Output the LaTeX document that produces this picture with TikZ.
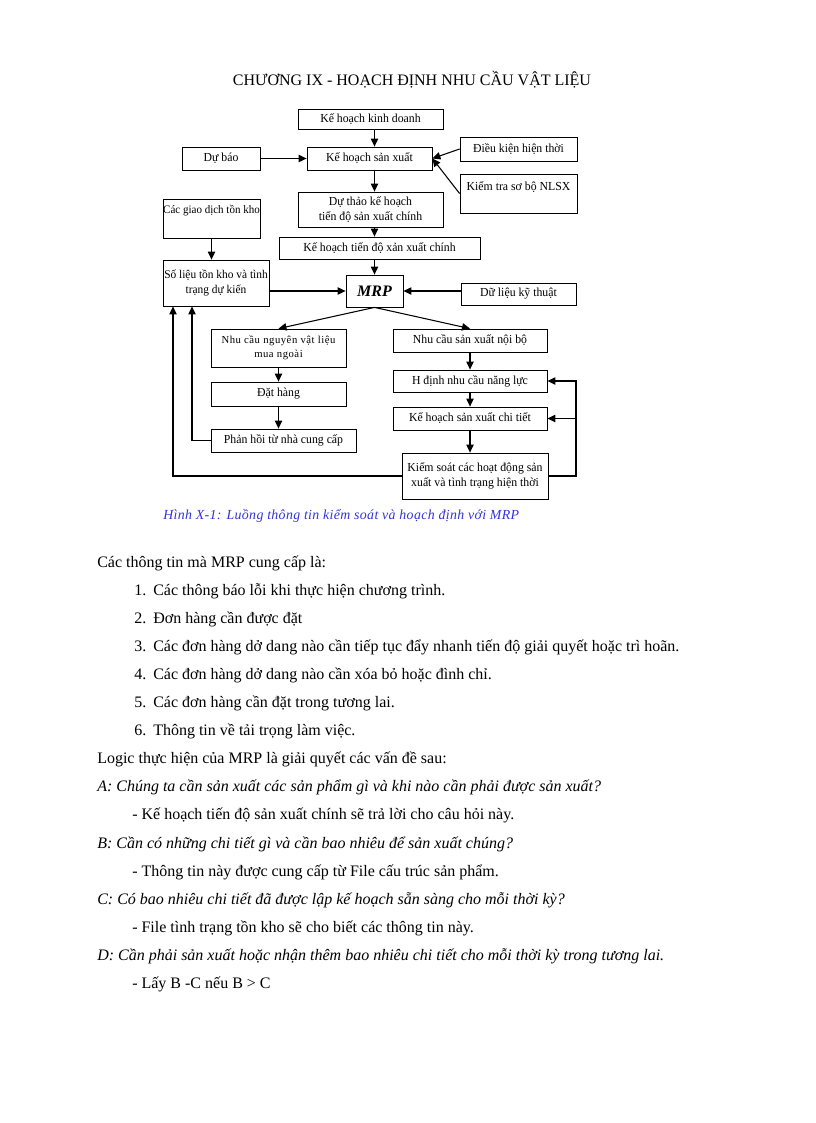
\documentclass[tikz,border=0pt]{standalone}
\usepackage{fontspec}
\setmainfont{Liberation Serif}
\newfontfamily\boxfont[FakeStretch=0.96]{Liberation Serif}
\newfontfamily\widefont[LetterSpace=5]{Liberation Serif}
\newfontfamily\capfont[LetterSpace=2.5]{Liberation Serif}
\usetikzlibrary{arrows.meta,positioning}
\definecolor{capblue}{RGB}{51,51,221}

\begin{document}
\begin{tikzpicture}[
	x=0.75pt, y=-0.75pt,
	>={Triangle[length=6pt,width=5.5pt]},
	boxsize/.style 2 args={minimum width=#1*0.75pt, minimum height=#2*0.75pt},
	flowbox/.style={draw, rectangle, line width=0.6pt, inner sep=1pt, align=center, font=\boxfont\fontsize{9.2}{11.5}\selectfont},
	flowline/.style={line width=0.8pt},
	bodytext/.style={anchor=base west, inner sep=0pt, font=\fontsize{12}{21}\selectfont},
	]
	\fill[white] (0,0) rectangle (816,1123);
	\useasboundingbox (0,0) rectangle (816,1123);

	%Title
	\node[anchor=base, inner sep=0pt, font=\fontsize{12}{14}\selectfont] (title) at (412,86) {CHƯƠNG IX - HOẠCH ĐỊNH NHU CẦU VẬT LIỆU};

	%Nodes
	\node[flowbox, boxsize={145}{20}] (kd)      at (370.5,119)   {Kế hoạch kinh doanh};
	\node[flowbox, boxsize={125}{23}] (kh)      at (369.5,158.5) {Kế hoạch sản xuất};
	\node[flowbox, boxsize={78}{23}]  (db)      at (221,158.5)   {Dự báo};
	\node[flowbox, boxsize={117}{24}] (dk)      at (518.5,149)   {Điều kiện hiện thời};
	\node[flowbox, boxsize={117}{39}] (kt)      at (518.5,193.5) {Kiểm tra sơ bộ NLSX\\~};
	\node[flowbox, boxsize={145}{35}] (dt)      at (370.5,209.5) {Dự thảo kế hoạch\\tiến độ sản xuất chính};
	\node[flowbox, boxsize={97}{39}, inner xsep=0pt, font=\boxfont\fontsize{8.6}{11.5}\selectfont] (gd) at (211.5,218.5) {Các giao dịch tồn kho\\[2pt]~};
	\node[flowbox, boxsize={201}{22}] (tdc)     at (379.5,248)   {Kế hoạch tiến độ xản xuất chính};
	\node[flowbox, boxsize={106}{46}, inner xsep=0pt, font=\boxfont\fontsize{8.9}{11.5}\selectfont] (sl) at (216,283) {Số liệu tồn kho và tình\\trạng dự kiến};
	\node[flowbox, boxsize={57}{32}, font=\bfseries\itshape\fontsize{12}{14}\selectfont] (mrp) at (374.5,291) {MRP};
	\node[flowbox, boxsize={115}{22}] (kythuat) at (518.5,294)   {Dữ liệu kỹ thuật};
	\node[flowbox, boxsize={135}{38}, font=\widefont\fontsize{8}{10.5}\selectfont] (nvl) at (278.5,348) {Nhu cầu nguyên vật liệu\\mua ngoài};
	\node[flowbox, boxsize={154}{23}] (noibo)   at (470,340.5)   {Nhu cầu sản xuất nội bộ};
	\node[flowbox, boxsize={135}{24}] (dathang) at (278.5,394)   {Đặt hàng};
	\node[flowbox, boxsize={154}{22}] (nangluc) at (470,381)     {H định nhu cầu năng lực};
	\node[flowbox, boxsize={154}{23}] (chitiet) at (470,418.5)   {Kế hoạch sản xuất chi tiết};
	\node[flowbox, boxsize={145}{23}] (phanhoi) at (283.5,440.5) {Phản hồi từ nhà cung cấp};
	\node[flowbox, boxsize={146}{46}] (ks)      at (475,476)     {Kiểm soát các hoạt động sản\\xuất và tình trạng hiện thời};

	\coordinate (leftin)  at (192,0);
	\coordinate (leftout) at (173,0);
	\coordinate (rightx)  at (576,0);

	%Lines
	\draw[flowline,->] (kd.south -| mrp) -- (kh.north -| mrp);
	\draw[flowline,->] (kh.south -| mrp) -- (dt.north -| mrp);
	\draw[flowline,->] (dt.south -| mrp) -- (tdc.north -| mrp);
	\draw[flowline,->] (tdc.south -| mrp) -- (mrp.north);
	\draw[flowline,->] (db) -- (kh);
	\draw[flowline,->] (dk.west) -- (kh.east);
	\draw[flowline,->] (kt.west) -- (kh.east);
	\draw[flowline,->] (gd.south) -- (gd.south |- sl.north);
	\draw[flowline,->] (sl.east |- mrp) -- (mrp.west);
	\draw[flowline,->] (kythuat.west |- mrp) -- (mrp.east);
	\draw[flowline,->] (mrp.south) -- (nvl.north);
	\draw[flowline,->] (mrp.south) -- (noibo.north);
	\draw[flowline,->] (nvl) -- (dathang);
	\draw[flowline,->] (dathang.south) -- (dathang.south |- phanhoi.north);
	\draw[flowline,->] (noibo) -- (nangluc);
	\draw[flowline,->] (nangluc) -- (chitiet);
	\draw[flowline,->] (chitiet.south) -- (chitiet.south |- ks.north);
	\draw[flowline,->] (phanhoi.west) -| (sl.south -| leftin);
	\draw[flowline,->] (ks.west) -| (sl.south -| leftout);
	\draw[flowline,->] (ks.east) -| (rightx |- nangluc) -- (nangluc.east);
	\draw[flowline,->] (rightx |- chitiet) -- (chitiet.east);

	%Caption
	\node[anchor=base west, inner sep=0pt, text=capblue, font=\capfont\itshape\fontsize{10.4}{12}\selectfont] (caption) at (163,519) {Hình X-1: Luồng thông tin kiểm soát và hoạch định với MRP};

	%Text
	\node[bodytext] (intro) at (97,567) {Các thông tin mà MRP cung cấp là:};
	\foreach \n/\txt in {1/Các thông báo lỗi khi thực hiện chương trình.,
		2/Đơn hàng cần được đặt,
		3/Các đơn hàng dở dang nào cần tiếp tục đẩy nhanh tiến độ giải quyết hoặc trì hoãn.,
		4/Các đơn hàng dở dang nào cần xóa bỏ hoặc đình chỉ.,
		5/Các đơn hàng cần đặt trong tương lai.,
		6/Thông tin về tải trọng làm việc.}
		\node[bodytext] (item\n) at (134,{567+28.1*\n}) {\makebox[14.25pt][l]{\n.}\txt};
	\node[bodytext] (logic) at (97,763.7) {Logic thực hiện của MRP là giải quyết các vấn đề sau:};
	\node[bodytext, font=\itshape\fontsize{12}{21}\selectfont] (qa) at (97,791.8) {A: Chúng ta cần sản xuất các sản phẩm gì và khi nào cần phải được sản xuất?};
	\node[bodytext] (ansa) at (132,819.9) {- Kế hoạch tiến độ sản xuất chính sẽ trả lời cho câu hỏi này.};
	\node[bodytext, font=\itshape\fontsize{12}{21}\selectfont] (qb) at (97,848) {B: Cần có những chi tiết gì và cần bao nhiêu để sản xuất chúng?};
	\node[bodytext] (ansb) at (132,876.1) {- Thông tin này được cung cấp từ File cấu trúc sản phẩm.};
	\node[bodytext, font=\itshape\fontsize{12}{21}\selectfont] (qc) at (97,904.2) {C: Có bao nhiêu chi tiết đã được lập kế hoạch sẵn sàng cho mỗi thời kỳ?};
	\node[bodytext] (ansc) at (132,932.3) {- File tình trạng tồn kho sẽ cho biết các thông tin này.};
	\node[bodytext, font=\itshape\fontsize{12}{21}\selectfont] (qd) at (97,960.4) {D: Cần phải sản xuất hoặc nhận thêm bao nhiêu chi tiết cho mỗi thời kỳ trong tương lai.};
	\node[bodytext] (ansd) at (132,988.5) {- Lấy B -C nếu B > C};
\end{tikzpicture}
\end{document}
